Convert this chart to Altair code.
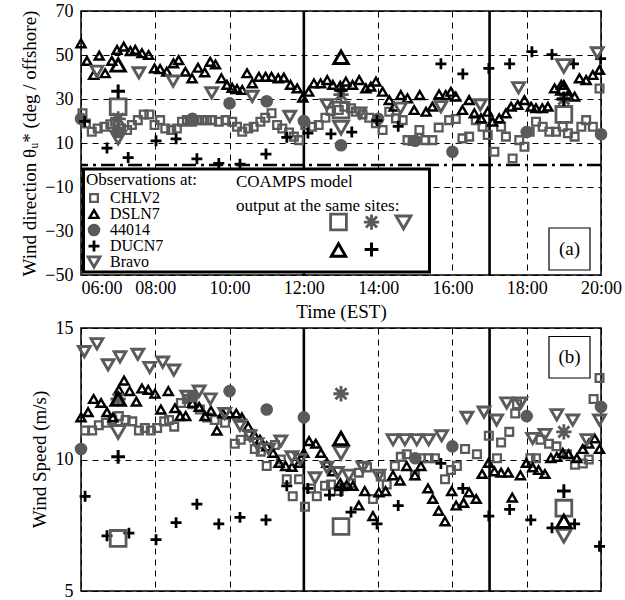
import altair as alt
import pandas as pd

# ---------------- axes / reference values ----------------
HOUR_TICKS = [6, 8, 10, 12, 14, 16, 18, 20]
DIR_TICKS = [-50, -30, -10, 10, 30, 50, 70]
SPD_TICKS = [5, 10, 15]
SOLID_HOURS = [12, 17]
ZERO_LINE = [0]

OBS_NAMES = ["CHLV2", "DSLN7", "44014", "DUCN7", "Bravo"]
MODEL_NAMES = ["CHLV2 model", "44014 model", "Bravo model", "DSLN7 model", "DUCN7 model"]
MODEL_HOURS = [7, 13, 19]

# ---------------- panel (a): wind direction ----------------
chlv2_dir = [(6.04, 23.5), (6.13, 18.9), (6.29, 15.1), (6.45, 16.6), (6.63, 17.4), (6.79, 18.5), (6.92, 19.7),
             (7.08, 16.6), (7.24, 15.9), (7.37, 18.2), (7.53, 20.4), (7.69, 23.0), (7.84, 23.0), (7.98, 18.2),
             (8.13, 20.4), (8.27, 16.6), (8.43, 15.9), (8.58, 16.6), (8.72, 19.7), (8.85, 20.4), (8.99, 19.7),
             (9.12, 20.4), (9.26, 20.4), (9.39, 20.4), (9.53, 20.4), (9.71, 19.7), (9.89, 20.4), (10.07, 19.7),
             (10.2, 17.4), (10.34, 15.1), (10.5, 16.6), (10.65, 17.4), (10.83, 19.7), (10.96, 21.5), (11.13, 23.5),
             (11.28, 18.2), (11.42, 16.6), (11.6, 14.8), (11.73, 12.9), (11.87, 11.3), (12.04, 18.2), (12.22, 17.4),
             (12.4, 18.2), (12.58, 21.5), (12.72, 24.5), (12.94, 25.0), (13.09, 26.5), (13.27, 25.8), (13.4, 24.2),
             (13.58, 23.0), (13.76, 21.5), (13.94, 19.0), (14.12, 15.9), (14.3, 24.2), (14.48, 21.2), (14.66, 20.4),
             (14.79, 11.3), (14.93, 10.9), (15.11, 15.9), (15.27, 11.3), (15.46, 11.3), (15.63, 17.0), (15.91, 20.4),
             (16.09, 20.9), (16.27, 12.1), (16.45, 12.9), (16.63, 20.4), (16.81, 17.4), (16.95, 13.6), (17.13, 6.0),
             (17.31, 17.4), (17.44, 12.9), (17.62, 3.0), (17.8, 11.3), (17.94, 8.3), (18.08, 15.1), (18.25, 19.7),
             (18.43, 17.4), (18.61, 15.1), (18.79, 15.1), (18.97, 17.4), (19.11, 14.4), (19.29, 12.9), (19.47, 17.4),
             (19.6, 20.4), (19.78, 17.4), (19.96, 34.8)]
dsln7_dir = [(6.0, 55.3), (6.16, 47.3), (6.34, 40.9), (6.49, 49.7), (6.65, 41.7), (6.83, 47.3), (6.97, 52.3),
             (7.15, 53.8), (7.33, 51.8), (7.46, 52.3), (7.64, 50.8), (7.82, 50.0), (7.98, 43.9), (8.13, 43.6),
             (8.31, 42.4), (8.49, 46.2), (8.63, 47.7), (8.81, 42.4), (8.99, 39.4), (9.15, 44.2), (9.33, 42.1),
             (9.48, 46.9), (9.62, 45.7), (9.78, 39.4), (9.93, 36.4), (10.07, 35.1), (10.2, 34.5), (10.34, 34.1),
             (10.47, 41.7), (10.61, 37.1), (10.79, 40.1), (10.97, 40.1), (11.13, 40.1), (11.31, 39.4), (11.46, 39.7),
             (11.64, 36.4), (11.82, 34.8), (11.97, 30.6), (12.13, 33.3), (12.27, 37.1), (12.45, 37.1), (12.63, 38.6),
             (12.78, 36.4), (12.98, 36.0), (13.13, 37.9), (13.31, 36.4), (13.49, 38.6), (13.67, 34.8), (13.8, 35.6),
             (13.94, 37.9), (14.12, 33.3), (14.3, 29.5), (14.43, 26.5), (14.61, 31.8), (14.79, 30.3), (14.97, 25.0),
             (15.12, 31.8), (15.29, 24.2), (15.46, 26.5), (15.64, 32.1), (15.82, 31.8), (15.96, 33.3), (16.09, 31.1),
             (16.27, 25.0), (16.45, 29.5), (16.59, 23.5), (16.77, 21.2), (16.95, 24.2), (17.08, 19.7), (17.26, 21.2),
             (17.44, 23.5), (17.58, 26.5), (17.76, 27.3), (17.94, 29.5), (18.12, 26.5), (18.25, 25.8), (18.42, 25.8),
             (18.57, 26.5), (18.75, 34.8), (18.93, 36.4), (19.11, 31.8), (19.29, 31.1), (19.42, 39.4), (19.6, 38.6),
             (19.78, 40.9), (19.96, 43.2)]
b44014_dir = [(6.0, 21.0), (7.0, 15.0), (9.0, 21.0), (10.0, 28.0), (11.0, 29.0), (12.0, 20.0), (13.0, 9.0),
              (14.0, 21.0), (15.0, 11.0), (16.0, 6.0), (18.0, 15.0), (20.0, 14.0)]
ducn7_dir = [(6.1, 19.8), (6.7, 7.7), (7.27, 3.4), (8.02, 11.0), (8.56, 11.9), (9.12, 2.8), (9.71, 0.7),
             (10.28, 0.4), (10.98, 5.0), (11.54, 12.6), (12.11, 14.5), (12.73, 14.1), (13.29, 15.0), (13.97, 20.2),
             (14.54, 17.6), (15.69, 46.0), (16.28, 41.4), (16.98, 43.9), (17.54, 46.0), (18.14, 51.5), (18.68, 50.2),
             (19.26, 46.0), (19.99, 48.4)]
bravo_dir = [(6.43, 42.6), (7.56, 41.9), (8.48, 38.1), (9.52, 32.8), (10.61, 31.2), (11.62, 22.1), (12.62, 27.4),
             (13.51, 23.6), (14.6, 25.8), (15.69, 26.5), (16.75, 27.3), (17.78, 35.1), (19.9, 51.0)]

# COAMPS model output at 07:00, 13:00, 19:00
model_chlv2_dir = [26.5, 25.0, 23.0]
model_44014_dir = [21.0, 32.0, 30.0]
model_bravo_dir = [12.5, 17.0, 45.0]
model_dsln7_dir = [45.5, 49.0, 35.0]
model_ducn7_dir = [33.5, 34.0, 30.0]

# ---------------- panel (b): wind speed ----------------
chlv2_spd = [(6.11, 11.1), (6.3, 11.1), (6.48, 11.3), (6.67, 11.4), (6.84, 11.5), (7.02, 11.65), (7.2, 11.5),
             (7.38, 11.45), (7.56, 11.1), (7.72, 11.2), (7.88, 11.1), (8.05, 11.2), (8.24, 11.45), (8.37, 11.5),
             (8.51, 11.25), (8.69, 12.15), (8.85, 12.3), (9.0, 12.1), (9.2, 11.9), (9.4, 11.6), (9.6, 11.5),
             (9.88, 11.4), (10.14, 10.6), (10.3, 10.75), (10.52, 10.9), (10.68, 10.4), (10.84, 10.3), (11.0, 9.75),
             (11.22, 10.55), (11.38, 10.0), (11.54, 9.25), (11.7, 8.6), (11.87, 9.25), (12.03, 8.2), (12.19, 8.9),
             (12.35, 8.6), (12.57, 9.0), (12.73, 9.05), (12.94, 8.8), (13.27, 9.1), (13.48, 9.5), (13.7, 9.7),
             (13.86, 8.5), (14.07, 9.35), (14.23, 9.05), (14.45, 9.75), (14.61, 10.1), (14.77, 10.2), (14.99, 9.4),
             (15.15, 10.05), (15.36, 10.05), (15.53, 10.05), (15.8, 9.25), (15.96, 9.6), (16.12, 9.75),
             (16.34, 10.4), (16.66, 10.2), (16.98, 10.9), (17.2, 10.05), (17.31, 10.65), (17.53, 11.05),
             (17.69, 11.75), (17.74, 12.1), (18.1, 10.05), (18.25, 10.05), (18.37, 10.75), (18.6, 10.6),
             (18.8, 10.5), (19.08, 10.2), (19.3, 9.8), (19.51, 9.85), (19.67, 10.0), (19.8, 12.3), (19.96, 13.1)]
dsln7_spd = [(6.0, 11.6), (6.19, 11.8), (6.34, 12.3), (6.54, 12.15), (6.7, 11.8), (6.86, 11.6), (7.02, 12.65),
             (7.16, 13.0), (7.31, 12.6), (7.49, 12.2), (7.64, 12.7), (7.81, 12.65), (7.99, 12.5), (8.15, 11.9),
             (8.35, 12.6), (8.53, 11.95), (8.67, 11.65), (8.82, 11.65), (9.0, 12.15), (9.18, 12.0), (9.34, 11.65),
             (9.5, 11.85), (9.66, 11.1), (9.82, 11.75), (10.0, 11.75), (10.18, 11.75), (10.33, 11.6), (10.5, 11.25),
             (10.66, 10.95), (10.82, 10.75), (11.0, 10.5), (11.17, 10.25), (11.33, 9.87), (11.51, 9.75),
             (11.68, 9.72), (11.87, 9.87), (12.0, 10.25), (12.14, 10.7), (12.32, 10.6), (12.46, 10.25),
             (12.62, 9.87), (12.78, 9.55), (12.98, 9.1), (13.16, 9.05), (13.32, 9.0), (13.48, 8.25), (13.64, 8.8),
             (13.86, 7.85), (14.02, 8.75), (14.2, 8.8), (14.4, 9.4), (14.59, 9.2), (14.77, 9.75), (14.99, 9.4),
             (15.15, 9.75), (15.34, 8.9), (15.47, 8.5), (15.63, 8.05), (15.8, 7.65), (15.98, 8.8), (16.1, 8.25),
             (16.3, 8.35), (16.45, 8.75), (16.64, 8.5), (16.8, 9.45), (16.97, 9.87), (17.13, 9.55), (17.31, 9.5),
             (17.5, 9.5), (17.61, 8.55), (17.83, 9.4), (17.99, 9.87), (18.16, 9.7), (18.32, 9.6), (18.49, 9.45),
             (18.65, 10.05), (18.81, 10.1), (18.97, 10.25), (19.13, 10.2), (19.35, 10.05), (19.51, 10.4),
             (19.67, 10.6), (19.83, 10.8), (19.96, 10.4)]
b44014_spd = [(6.0, 10.4), (9.0, 12.4), (10.0, 12.6), (11.0, 11.9), (12.0, 11.6), (15.0, 10.05), (16.0, 10.5),
              (18.0, 11.65), (20.0, 12.0)]
ducn7_spd = [(6.11, 8.6), (6.7, 7.1), (7.29, 7.2), (8.02, 6.95), (8.56, 7.6), (9.12, 8.3), (9.71, 7.55),
             (10.28, 7.8), (10.98, 7.7), (11.54, 9.0), (12.11, 8.9), (12.69, 8.65), (13.27, 8.0), (13.97, 7.55),
             (14.54, 8.25), (15.69, 9.85), (16.28, 8.9), (16.98, 7.85), (17.54, 8.1), (18.11, 7.7), (18.68, 7.4),
             (19.29, 7.55), (19.96, 6.7)]
bravo_spd = [(6.09, 14.1), (6.43, 14.4), (6.73, 13.6), (7.05, 13.9), (7.53, 14.0), (7.85, 13.5), (8.2, 13.7),
             (8.5, 13.4), (8.85, 12.4), (9.18, 12.6), (9.48, 12.3), (9.87, 11.75), (10.28, 11.3), (10.55, 10.9),
             (10.74, 10.6), (11.05, 10.4), (11.38, 10.7), (11.68, 10.1), (11.9, 10.0), (12.3, 9.3), (12.62, 9.7),
             (12.9, 9.5), (13.21, 9.4), (13.59, 9.7), (14.02, 9.4), (14.4, 10.75), (14.72, 10.75), (15.04, 10.75),
             (15.36, 10.75), (15.71, 10.9), (16.39, 11.6), (16.85, 11.8), (17.19, 11.5), (17.46, 12.15),
             (17.84, 12.15), (18.16, 10.8), (18.49, 10.95), (18.81, 11.7), (19.24, 11.5), (19.62, 10.75),
             (19.96, 11.5)]

model_chlv2_spd = [7.0, 7.45, 8.15]
model_44014_spd = [12.3, 12.5, 11.05]
model_bravo_spd = [11.05, 10.25, 7.1]
model_dsln7_spd = [12.3, 10.8, 7.65]
model_ducn7_spd = [10.1, 8.85, 8.8]


def obs_frame(series_lists):
    rows = []
    for name, pairs in zip(OBS_NAMES, series_lists):
        for h, v in pairs:
            rows.append({"series": name, "hour": h, "value": v})
    return pd.DataFrame(rows)


def model_frame(series_lists):
    rows = []
    for name, vals in zip(MODEL_NAMES, series_lists):
        for h, v in zip(MODEL_HOURS, vals):
            rows.append({"model": name, "hour": h, "value": v})
    return pd.DataFrame(rows)


obs_dir = obs_frame([chlv2_dir, dsln7_dir, b44014_dir, ducn7_dir, bravo_dir])
obs_spd = obs_frame([chlv2_spd, dsln7_spd, b44014_spd, ducn7_spd, bravo_spd])
mod_dir = model_frame([model_chlv2_dir, model_44014_dir, model_bravo_dir, model_dsln7_dir, model_ducn7_dir])
mod_spd = model_frame([model_chlv2_spd, model_44014_spd, model_bravo_spd, model_dsln7_spd, model_ducn7_spd])

# ---------------- styles ----------------
FONT = "Liberation Serif"
GRAY = "#5a5a5a"
ASTERISK = "M-1,0L1,0M0,-1L0,1M-0.72,-0.72L0.72,0.72M-0.72,0.72L0.72,-0.72"
PLUS = "M-1,0L1,0M0,-1L0,1"

obs_shape = ["square", "triangle-up", "circle", PLUS, "triangle-down"]
obs_stroke = [GRAY, "black", GRAY, "black", GRAY]
obs_fill = ["transparent", "transparent", GRAY, "transparent", "transparent"]
obs_sw = [2.3, 2.9, 0.5, 2.6, 2.3]
obs_size = [60, 140, 50, 78, 140]

mod_shape = ["square", ASTERISK, "triangle-down", "triangle-up", PLUS]
mod_stroke = [GRAY, GRAY, GRAY, "black", "black"]
mod_fill = ["transparent", "transparent", "transparent", "transparent", "transparent"]
mod_sw = [2.8, 3.0, 2.8, 3.0, 3.2]
mod_size = [250, 190, 480, 480, 300]

xscale = alt.Scale(domain=[6, 20], nice=False, zero=False)
ydir_scale = alt.Scale(domain=[-50, 70], nice=False, zero=False)
yspd_scale = alt.Scale(domain=[5, 15], nice=False, zero=False)

ax_x_top = alt.Axis(values=HOUR_TICKS, title="Time (EST)",
                    labelExpr="(datum.value < 10 ? '0' : '') + datum.value + ':00'",
                    labelFlush=False,
                    labelAlign={"condition": {"test": "datum.value == 6", "value": "left"}, "value": "center"},
                    labelPadding=4, titlePadding=5)
ax_x_bot = alt.Axis(values=HOUR_TICKS, labels=False, title=None)
ax_y_top = alt.Axis(values=DIR_TICKS, title="Wind direction θᵤ* (deg / offshore)",
                    titleX=-52, titleY=132, titleBaseline="middle", labelPadding=8,
                    gridOpacity={"condition": {"test": "datum.value == -30", "value": 0}, "value": 1})
ax_y_bot = alt.Axis(values=SPD_TICKS, title="Wind Speed (m/s)",
                    titleX=-42, titleY=131, titleBaseline="middle", labelPadding=8)

X_TOP = alt.X("hour:Q", scale=xscale, axis=ax_x_top)
X_BOT = alt.X("hour:Q", scale=xscale, axis=ax_x_bot)
Y_TOP = alt.Y("value:Q", scale=ydir_scale, axis=ax_y_top)
Y_BOT = alt.Y("value:Q", scale=yspd_scale, axis=ax_y_bot)

obs_legend = alt.Legend(title="Observations at:", orient="none", legendX=5, legendY=161,
                        titleFont=FONT, titleFontSize=17, titleFontWeight="normal", titleColor="black",
                        titlePadding=2, labelFont=FONT, labelFontSize=16, labelColor="black",
                        labelOffset=8, clipHeight=14, rowPadding=0, padding=0, symbolOpacity=1, zindex=5)
mod_legend = alt.Legend(title=None, orient="none", legendX=248, legendY=201, columns=3,
                        direction="horizontal",
                        labelExpr="''", labelOffset=0, columnPadding=5, rowPadding=0, padding=0,
                        symbolOpacity=1, zindex=5)


def obs_layer(df, x, y, with_legend):
    lg = obs_legend if with_legend else None
    f = "series:N"
    return alt.Chart(df).mark_point(opacity=1).encode(
        x=x, y=y,
        shape=alt.Shape(f, scale=alt.Scale(domain=OBS_NAMES, range=obs_shape), legend=lg),
        stroke=alt.Stroke(f, scale=alt.Scale(domain=OBS_NAMES, range=obs_stroke), legend=lg),
        fill=alt.Fill(f, scale=alt.Scale(domain=OBS_NAMES, range=obs_fill), legend=lg),
        strokeWidth=alt.StrokeWidth(f, scale=alt.Scale(domain=OBS_NAMES, range=obs_sw), legend=lg),
        size=alt.Size(f, scale=alt.Scale(domain=OBS_NAMES, range=obs_size), legend=lg),
    )


def model_layer(df, x, y, with_legend):
    lg = mod_legend if with_legend else None
    f = "model:N"
    return alt.Chart(df).mark_point(opacity=1).encode(
        x=x, y=y,
        shape=alt.Shape(f, scale=alt.Scale(domain=MODEL_NAMES, range=mod_shape), legend=lg),
        stroke=alt.Stroke(f, scale=alt.Scale(domain=MODEL_NAMES, range=mod_stroke), legend=lg),
        fill=alt.Fill(f, scale=alt.Scale(domain=MODEL_NAMES, range=mod_fill), legend=lg),
        strokeWidth=alt.StrokeWidth(f, scale=alt.Scale(domain=MODEL_NAMES, range=mod_sw), legend=lg),
        size=alt.Size(f, scale=alt.Scale(domain=MODEL_NAMES, range=mod_size), legend=lg),
    )


def solid_rules(x):
    return alt.Chart(pd.DataFrame({"hour": SOLID_HOURS})).mark_rule(color="black", strokeWidth=2.6).encode(x=x)


one = pd.DataFrame({"k": [0]})


def box(x1, x2, y1, y2, sw):
    return alt.Chart(one).mark_rect(fill="white", stroke="black", strokeWidth=sw).encode(
        x=alt.value(x1), x2=alt.value(x2), y=alt.value(y1), y2=alt.value(y2))


def label(txt, x, y, size=19, align="center"):
    return alt.Chart(one).mark_text(font=FONT, fontSize=size, color="black", align=align,
                                    baseline="middle", lineHeight=24).encode(
        x=alt.value(x), y=alt.value(y), text=alt.value(txt))


RES = dict(shape="independent", stroke="independent", fill="independent",
           strokeWidth="independent", size="independent")

zero_rule = alt.Chart(pd.DataFrame({"value": ZERO_LINE})).mark_rule(
    color="black", strokeWidth=2.4, strokeDash=[14, 5, 3, 5]).encode(y=Y_TOP)

top = alt.layer(
    solid_rules(X_TOP),
    zero_rule,
    obs_layer(obs_dir, X_TOP, Y_TOP, True),
    model_layer(mod_dir, X_TOP, Y_TOP, True),
    box(2.5, 348.5, 158, 261, 3),
    label(["COAMPS model", "output at the same sites:"], 155, 171, 17, "left"),
    box(468, 509, 217, 259, 1.2),
    label("(a)", 488.5, 238),
).resolve_scale(**RES).resolve_legend(**RES).properties(width=520, height=264)

bottom = alt.layer(
    solid_rules(X_BOT),
    obs_layer(obs_spd, X_BOT, Y_BOT, False),
    model_layer(mod_spd, X_BOT, Y_BOT, False),
    box(468, 509, 8.5, 50, 1.2),
    label("(b)", 488.5, 29),
).resolve_scale(**RES).properties(width=520, height=263)

chart = alt.vconcat(top, bottom, spacing=53, bounds="flush").resolve_scale(
    x="independent", y="independent", **RES
).resolve_legend(**RES).properties(
    padding={"left": 19, "top": 1, "right": 2, "bottom": 4}
).configure(font=FONT).configure_axis(
    labelFont=FONT, labelFontSize=18, labelColor="black",
    titleFont=FONT, titleFontSize=19, titleFontWeight="normal", titleColor="black",
    ticks=False, domain=False, grid=True, gridColor="black", gridDash=[6, 5], gridWidth=1,
).configure_view(stroke="black", strokeWidth=1.5)

chart.save("out.html", embed_options={"renderer": "svg", "actions": False})
